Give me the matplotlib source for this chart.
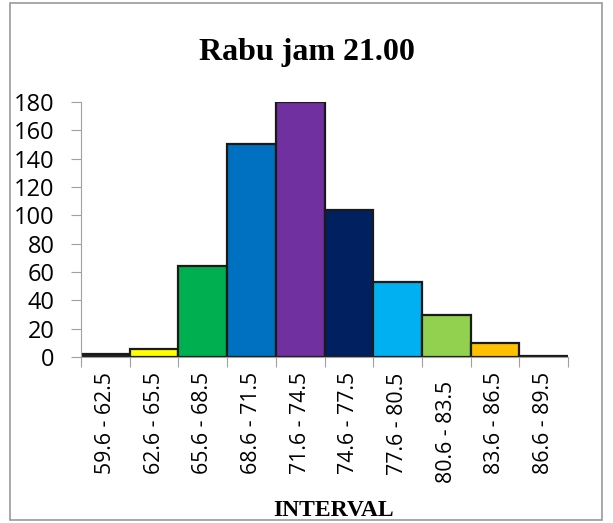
import matplotlib
matplotlib.use('Agg')
import matplotlib.pyplot as plt
from matplotlib.patches import Rectangle
from matplotlib.transforms import ScaledTranslation

# data
intervals = ['59.6 - 62.5', '62.6 - 65.5', '65.6 - 68.5', '68.6 - 71.5', '71.6 - 74.5',
             '74.6 - 77.5', '77.6 - 80.5', '80.6 - 83.5', '83.6 - 86.5', '86.6 - 89.5']
freq = [2, 6, 64, 150, 180, 104, 53, 30, 10, 1]
colors = ['#2b1a1a', '#ffff00', '#00b050', '#0070c0', '#7030a0',
          '#002060', '#00b0f0', '#92d050', '#ffc000', '#262626']

W, H = 613, 523
fig = plt.figure(figsize=(W / 100, H / 100), dpi=100)
ax = fig.add_axes([81/W, 1 - 357/H, 487/W, 255/H])

x = list(range(len(freq)))
ax.bar(x, freq, width=1.0, color=colors, edgecolor='#1a1a1a', linewidth=1.6)

ax.set_xlim(-0.5, len(freq) - 0.5)
ax.set_ylim(0, 180)
ax.set_yticks(range(0, 181, 20))
ax.set_xticks([i - 0.5 for i in range(len(freq) + 1)], minor=False)
ax.set_xticklabels([])
ax.set_xticks(x, minor=True)
ax.set_xticklabels(intervals, minor=True, rotation=90, fontsize=15.3,
                   family='Open Sans', va='top', ha='center')
ax.tick_params(axis='x', which='minor', length=0, pad=11)
ax.tick_params(axis='x', which='major', length=7, color='#a0a0a0')
ax.tick_params(axis='y', length=7, color='#a0a0a0', labelsize=17, pad=12)
for lab in ax.get_yticklabels():
    lab.set_family('Open Sans')

# in the original the 80.6 - 83.5 label sits a bit lower
lab = ax.xaxis.get_minor_ticks()[7].label1
lab.set_transform(lab.get_transform() + ScaledTranslation(0, -6/72, fig.dpi_scale_trans))

for s in ['top', 'right']:
    ax.spines[s].set_visible(False)
ax.spines['left'].set_color('#a0a0a0')
ax.spines['bottom'].set_color('#a0a0a0')

fig.text(307/W, 1 - 60/H, 'Rabu jam 21.00', ha='center', va='baseline',
         fontsize=23, fontweight='bold', family='Liberation Serif')
fig.text(333.5/W, 1 - 516/H, 'INTERVAL', ha='center', va='baseline',
         fontsize=17, fontweight='bold', family='Liberation Serif')

fig.patches.append(Rectangle((10/W, 3/H), 592/W, 517/H, transform=fig.transFigure,
                             fill=False, edgecolor='#999999', linewidth=1.2))

fig.savefig('out.png', dpi=100)
